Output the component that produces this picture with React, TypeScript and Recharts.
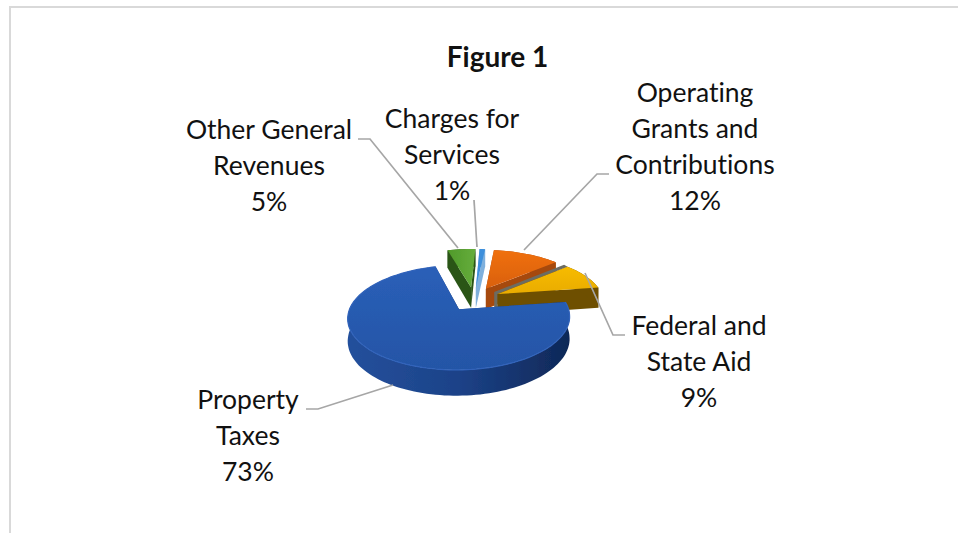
import { Pie, PieChart } from "recharts";

const CATEGORIES = [
  "Other General Revenues",
  "Charges for Services",
  "Operating Grants and Contributions",
  "Federal and State Aid",
  "Property Taxes",
];
const SHARES = [5, 1, 12, 9, 73];
const LABEL_LINES = [
  ["Other General", "Revenues"],
  ["Charges for", "Services"],
  ["Operating", "Grants and", "Contributions"],
  ["Federal and", "State Aid"],
  ["Property", "Taxes"],
];

const TOP_FILLS = ["url(#greenTop)", "#3c8fdc", "url(#orangeTop)", "url(#yellowTop)", "url(#blueTop)"];
const WALL_FILLS = ["#2a5518", "#7fb0dc", "#a64808", "#6e5000", "url(#blueWall)"];

// label text: center x and first baseline, leader line points
const LABEL_X = [269, 452, 695, 699, 248];
const LABEL_Y = [139, 128, 102, 335, 409];
const LEADERS = [
  "358,139 370,139 458,248",
  "474,200 477,247",
  "609,174 597,174 524,250",
  "625,335 613,335 585,273",
  "306,409 318,409 393,385",
];
const LINE_HEIGHT = 36;

const data = CATEGORIES.map((name, i) => ({ name, value: SHARES[i], index: i }));

const CX = 474;
const CY = 299;
const R = 100;
const EXPLODE = 25;
const PERSPECTIVE = 0.154;
const FLATTEN = 0.477;
const X_SCALE = 1.06;
const DEPTH = 21;
const FONT = "Lato, sans-serif";
const RAD = Math.PI / 180;
const FEDERAL = 3;
const PROPERTY = 4;

// ground plane to screen, things further back get smaller
function project(x: number, y: number, z = 0) {
  const s = 1 / (1 + (PERSPECTIVE * y) / R);
  return [CX + x * X_SCALE * s, CY - y * FLATTEN * s + z * s];
}

const toPath = (pts: number[][], close = true) =>
  "M" + pts.map((p) => `${p[0].toFixed(1)},${p[1].toFixed(1)}`).join("L") + (close ? "Z" : "");

const nudge = (p: number[]) => [p[0] - 3.5, p[1] - 2];

function Slice(props: any) {
  const { startAngle, endAngle, midAngle, outerRadius, payload } = props;
  const ox = EXPLODE * Math.cos(midAngle * RAD);
  const oy = EXPLODE * Math.sin(midAngle * RAD);
  const steps = Math.max(2, Math.ceil(Math.abs(startAngle - endAngle) / 2));
  const rim: number[][] = [];
  for (let i = 0; i <= steps; i++) {
    const a = (startAngle + ((endAngle - startAngle) * i) / steps) * RAD;
    rim.push([ox + outerRadius * Math.cos(a), oy + outerRadius * Math.sin(a)]);
  }
  const top = rim.map((p) => project(p[0], p[1]));
  const low = rim.map((p) => project(p[0], p[1], DEPTH));
  const apex = project(ox, oy);
  const apexLow = project(ox, oy, DEPTH);
  const wall = WALL_FILLS[payload.index];
  return (
    <g filter="url(#soft)">
      {/* grey shadow the yellow slice throws on the orange one */}
      {payload.index === FEDERAL && (
        <path
          d={toPath([nudge(top[0]), nudge(apex), nudge(apexLow), apexLow, apex, top[0]])}
          fill="#6c6c62"
        />
      )}
      <path d={toPath([apex, top[0], low[0], apexLow])} fill={wall} />
      <path d={toPath([apex, top[steps], low[steps], apexLow])} fill={wall} />
      <path d={toPath([...top, ...low.slice().reverse()])} fill={wall} />
      <path d={toPath([apex, ...top])} fill={TOP_FILLS[payload.index]} />
      {payload.index === PROPERTY && (
        <path d={toPath(top, false)} fill="none" stroke="#3264bb" strokeWidth={1.2} />
      )}
    </g>
  );
}

function SliceLabel(props: any) {
  const i = props.payload.index;
  const lines = [...LABEL_LINES[i], `${SHARES[i]}%`];
  return (
    <g>
      <polyline points={LEADERS[i]} fill="none" stroke="#a6a6a6" strokeWidth={1.7} />
      <text
        textAnchor="middle"
        fontFamily={FONT}
        fontSize={26.5}
        fill="#111"
        style={{ fontVariantLigatures: "none" }}
      >
        {lines.map((line, k) => (
          <tspan key={line} x={LABEL_X[i]} y={LABEL_Y[i] + k * LINE_HEIGHT}>
            {line}
          </tspan>
        ))}
      </text>
    </g>
  );
}

export default function App() {
  return (
    <div style={{ position: "absolute", left: 0, top: 0, width: 958, height: 533, background: "#fff" }}>
      <div
        style={{
          position: "absolute",
          left: 9,
          top: 6,
          right: 0,
          bottom: 0,
          borderTop: "2px solid #d9d9d9",
          borderLeft: "2px solid #d9d9d9",
        }}
      />
      <div style={{ position: "absolute", left: 0, top: 0 }}>
        <PieChart width={958} height={533} margin={{ top: 0, right: 0, bottom: 0, left: 0 }}>
          <defs>
            <filter id="soft" x="-10%" y="-10%" width="120%" height="120%">
              <feGaussianBlur stdDeviation="0.6" />
            </filter>
            <linearGradient id="blueTop" x1="0" y1="0" x2="0" y2="1">
              <stop offset="0" stopColor="#2a5fb8" />
              <stop offset="1" stopColor="#2455a6" />
            </linearGradient>
            <linearGradient id="blueWall" x1="0" y1="0" x2="1" y2="0">
              <stop offset="0" stopColor="#24509c" />
              <stop offset="0.5" stopColor="#1c4288" />
              <stop offset="1" stopColor="#0f2857" />
            </linearGradient>
            <linearGradient id="orangeTop" x1="0" y1="0" x2="0" y2="1">
              <stop offset="0" stopColor="#f07010" />
              <stop offset="1" stopColor="#d9600c" />
            </linearGradient>
            <linearGradient id="yellowTop" x1="0" y1="0" x2="0" y2="1">
              <stop offset="0" stopColor="#f7bb00" />
              <stop offset="1" stopColor="#e9ac04" />
            </linearGradient>
            <linearGradient id="greenTop" x1="0" y1="0" x2="1" y2="0">
              <stop offset="0" stopColor="#4f9a2a" />
              <stop offset="1" stopColor="#66ad3c" />
            </linearGradient>
          </defs>
          <text x={497.5} y={67} textAnchor="middle" fontFamily={FONT} fontWeight={700} fontSize={28} fill="#111">
            Figure 1
          </text>
          <Pie
            data={data}
            dataKey="value"
            nameKey="name"
            cx={CX}
            cy={CY}
            innerRadius={0}
            outerRadius={R}
            startAngle={105.5}
            endAngle={-254.5}
            paddingAngle={0}
            stroke="none"
            shape={Slice}
            label={SliceLabel}
            labelLine={false}
            isAnimationActive={false}
          />
        </PieChart>
      </div>
    </div>
  );
}
